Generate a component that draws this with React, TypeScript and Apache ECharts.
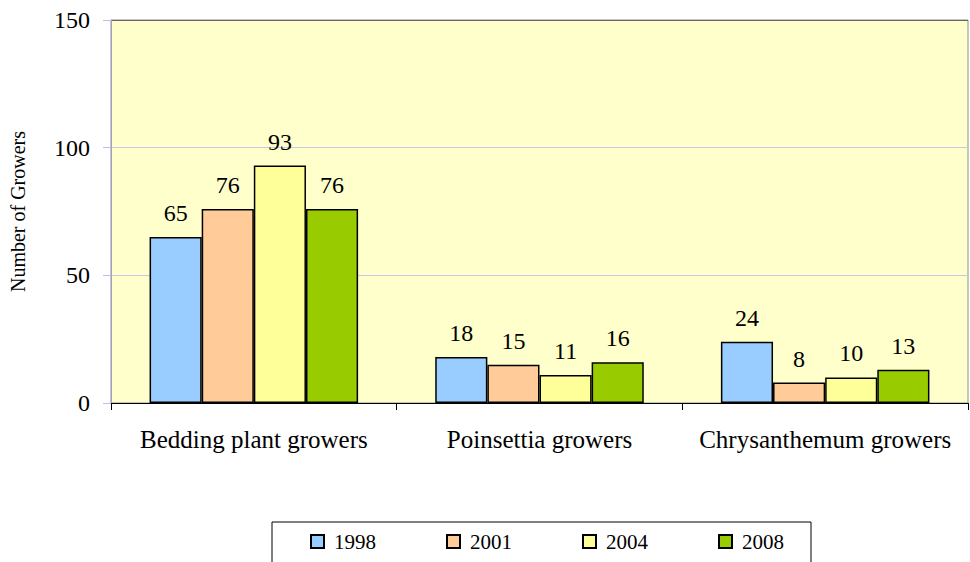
import React, { useEffect, useRef } from "react";
import * as echarts from "echarts";

const categories = ["Bedding plant growers", "Poinsettia growers", "Chrysanthemum growers"];
const seriesNames = ["1998", "2001", "2004", "2008"];
const values1998 = [65, 18, 24];
const values2001 = [76, 15, 8];
const values2004 = [93, 11, 10];
const values2008 = [76, 16, 13];
const seriesColors = ["#99CCFF", "#FFCC99", "#FFFF99", "#99CC00"];
const yTicks = { min: 0, max: 150, interval: 50 };
const yAxisTitle = "Number of Growers";

const FONT = "Liberation Serif";

export default function App() {
  const ref = useRef<HTMLDivElement>(null);
  useEffect(() => {
    document.body.style.margin = "0";
    if (!ref.current) return;
    const chart = echarts.init(ref.current, undefined, { renderer: "svg" });
    const allValues = [values1998, values2001, values2004, values2008];
    const option = {
      animation: false,
      textStyle: { fontFamily: FONT, color: "#000" },
      grid: {
        left: 111,
        top: 20,
        right: 2,
        bottom: 159,
        show: true,
        backgroundColor: "#FFFFCC",
        borderColor: "#8c8c8c",
        borderWidth: 1,
      },
      legend: {
        data: seriesNames,
        left: 310,
        top: 531,
        padding: 0,
        itemWidth: 13,
        itemHeight: 13,
        itemGap: 70,
        icon: "rect",
        textStyle: { fontFamily: FONT, fontSize: 21, color: "#000", padding: [0, 0, 0, 5] },
      },
      graphic: [
        {
          type: "rect",
          shape: { x: 272, y: 522, width: 539, height: 50 },
          style: { fill: "none", stroke: "#000", lineWidth: 1 },
          z: 0,
        },
      ],
      xAxis: {
        type: "category",
        data: categories,
        axisLine: { lineStyle: { color: "#000", width: 1 } },
        axisTick: { show: true, length: 7, lineStyle: { color: "#000" } },
        axisLabel: { interval: 0, fontFamily: FONT, fontSize: 25, color: "#000", margin: 24 },
        splitLine: { show: false },
      },
      yAxis: {
        type: "value",
        min: yTicks.min,
        max: yTicks.max,
        interval: yTicks.interval,
        name: yAxisTitle,
        nameLocation: "middle",
        nameGap: 83,
        nameTextStyle: { fontFamily: FONT, fontSize: 20, color: "#000" },
        axisLine: { show: true, lineStyle: { color: "#a0a0c8", width: 1 } },
        axisTick: { show: true, length: 8, lineStyle: { color: "#c0c0e0" } },
        axisLabel: { fontFamily: FONT, fontSize: 24, color: "#000", margin: 21 },
        splitLine: {
          show: true,
          lineStyle: { color: ["#c8c8e6", "#c8c8e6", "#c8c8e6", "#666666"], width: 1 },
        },
      },
      series: seriesNames.map((name, i) => ({
        name,
        type: "bar",
        data: allValues[i],
        barGap: "0%",
        barCategoryGap: "27%",
        itemStyle: { color: seriesColors[i], borderColor: "#000", borderWidth: 1.5 },
        label: {
          show: true,
          position: "top",
          distance: 12,
          fontFamily: FONT,
          fontSize: 24,
          color: "#000",
        },
      })),
    };
    chart.setOption(option as any);
    return () => chart.dispose();
  }, []);
  return <div ref={ref} style={{ width: 970, height: 562 }} />;
}
